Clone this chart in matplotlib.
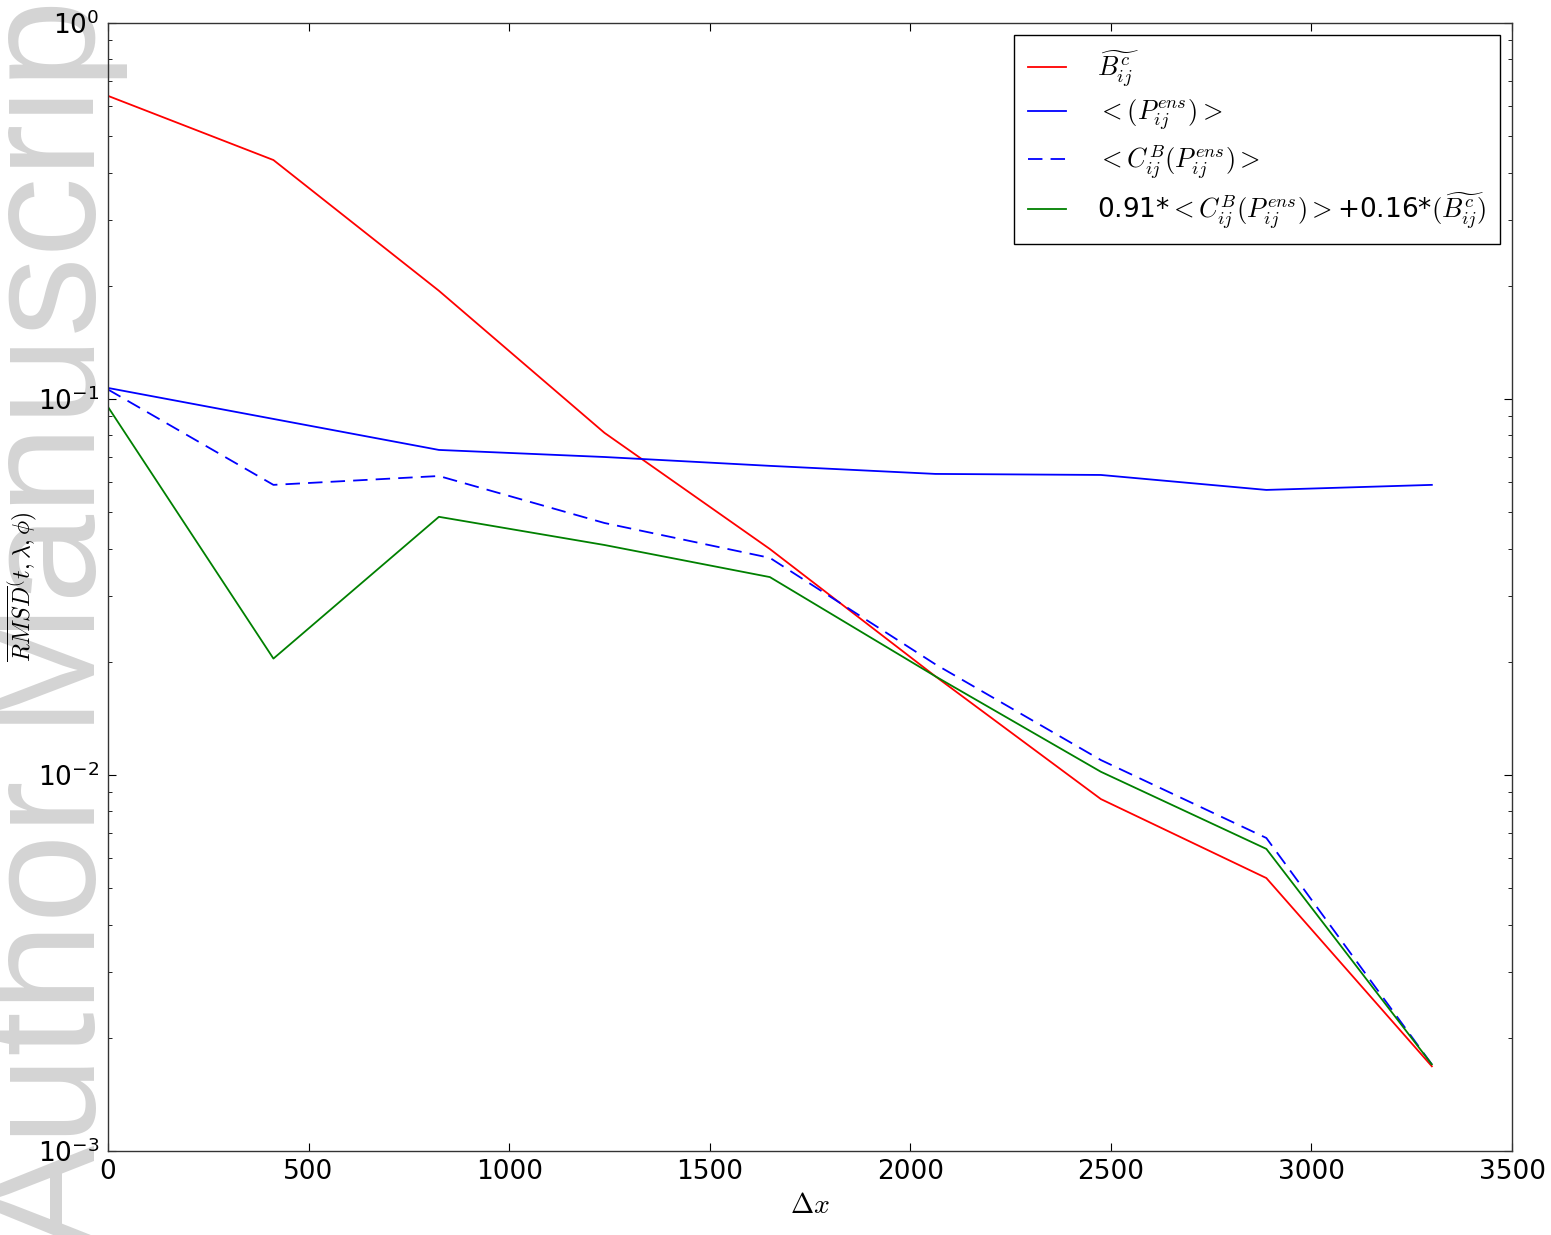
import matplotlib
matplotlib.use('Agg')
import matplotlib.pyplot as plt

plt.rcParams['mathtext.fontset'] = 'cm'
plt.rcParams['font.family'] = 'DejaVu Sans'

# grid spacing vs RMSD, one value per resolution
dx = [0, 412.5, 825, 1237.5, 1650, 2062.5, 2475, 2887.5, 3300]
b_c = [0.64, 0.432, 0.194, 0.0813, 0.0399, 0.0183, 0.00863, 0.00532, 0.00168]
p_ens = [0.107, 0.0885, 0.0732, 0.0701, 0.0664, 0.0632, 0.0628, 0.0573, 0.0591]
cb_p_ens = [0.106, 0.0591, 0.0624, 0.0468, 0.0378, 0.0197, 0.01096, 0.0068, 0.0017]
combo = [0.0953, 0.0204, 0.0486, 0.0409, 0.0336, 0.0183, 0.0102, 0.00636, 0.0017]

labels = [r'$\widetilde{B^c_{ij}}$',
          r'$<(P^{ens}_{ij})>$',
          r'$<C^B_{ij}(P^{ens}_{ij})>$',
          r'0.91*$<C^B_{ij}(P^{ens}_{ij})>$+0.16*$(\widetilde{B^c_{ij}})$']

fig = plt.figure(figsize=(15.51, 12.35), dpi=100, facecolor='white')
ax = fig.add_axes([0.0696, 0.0680, 0.9053, 0.9134])
ax.patch.set_alpha(0.0)

ax.plot(dx, b_c, color='r', lw=1.3, label=labels[0])
ax.plot(dx, p_ens, color='b', lw=1.3, label=labels[1])
ax.plot(dx, cb_p_ens, color='b', lw=1.3, dashes=(8, 4.5), label=labels[2])
ax.plot(dx, combo, color='g', lw=1.3, label=labels[3])

ax.set_yscale('log')
ax.set_xlim(0, 3500)
ax.set_ylim(1e-3, 1e0)
ax.set_xticks([0, 500, 1000, 1500, 2000, 2500, 3000, 3500])

ax.tick_params(which='both', direction='in', top=True, right=True, labelsize=19)
ax.tick_params(which='major', length=5.5, pad=6)
ax.tick_params(which='minor', length=2.8)
for s in ax.spines.values():
    s.set_linewidth(1.0)
    s.set_color('#333333')

ax.set_xlabel(r'$\Delta x$', fontsize=20, labelpad=4)
ax.set_ylabel(r'$\overline{RMSD}^(t,\lambda,\phi)$', fontsize=17)
ax.yaxis.set_label_coords(-0.049, 0.5)

leg = ax.legend(loc='upper right', fontsize=19, fancybox=False, framealpha=1,
                edgecolor='black', handlelength=1.45, handletextpad=1.2,
                labelspacing=0.35, borderpad=0.5, borderaxespad=0.45)
leg.get_frame().set_linewidth(1.0)

# watermark down the left edge
fig.text(0.0613, -0.013, 'Author Manuscript', rotation=90, rotation_mode='anchor',
         ha='left', va='baseline', fontsize=115, family='Liberation Sans',
         color='#d4d4d4', zorder=-1)

fig.savefig('out.png', dpi=100, facecolor='white')
